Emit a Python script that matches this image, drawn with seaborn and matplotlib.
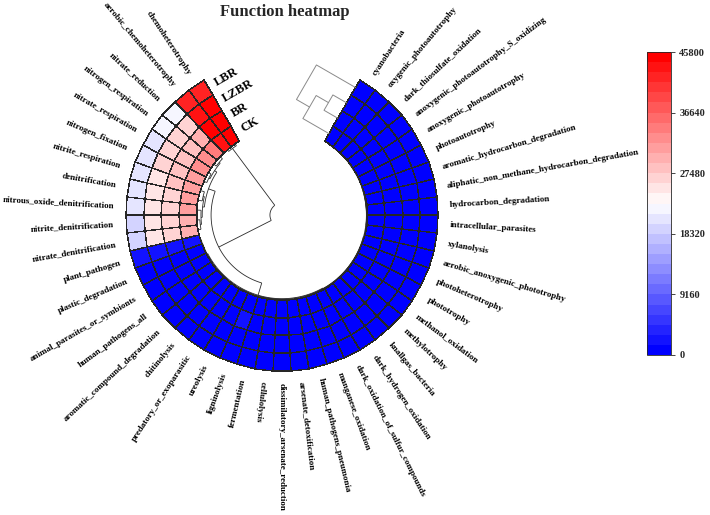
import numpy as np
import matplotlib
matplotlib.use("Agg")
import matplotlib.pyplot as plt
import seaborn as sns
import pandas as pd

# ---------------- data ----------------
functions = [
    "cyanobacteria", "oxygenic_photoautotrophy", "dark_thiosulfate_oxidation",
    "anoxygenic_photoautotrophy_S_oxidizing", "anoxygenic_photoautotrophy",
    "photoautotrophy", "aromatic_hydrocarbon_degradation",
    "aliphatic_non_methane_hydrocarbon_degradation", "hydrocarbon_degradation",
    "intracellular_parasites", "xylanolysis", "aerobic_anoxygenic_phototrophy",
    "photoheterotrophy", "phototrophy", "methanol_oxidation", "methylotrophy",
    "knallgas_bacteria", "dark_hydrogen_oxidation",
    "dark_oxidation_of_sulfur_compounds", "manganese_oxidation",
    "human_pathogens_pneumonia", "arsenate_detoxification",
    "dissimilatory_arsenate_reduction", "cellulolysis", "fermentation",
    "ligninolysis", "ureolysis", "predatory_or_exoparasitic", "chitinolysis",
    "aromatic_compound_degradation", "human_pathogens_all",
    "animal_parasites_or_symbionts", "plastic_degradation", "plant_pathogen",
    "nitrate_denitrification", "nitrite_denitrification",
    "nitrous_oxide_denitrification", "denitrification", "nitrite_respiration",
    "nitrogen_fixation", "nitrate_respiration", "nitrogen_respiration",
    "nitrate_reduction", "aerobic_chemoheterotrophy", "chemoheterotrophy",
]
samples = ["CK", "BR", "LZBR", "LBR"]   # inner ring -> outer ring

ck = [40, 60, 20, 30, 80, 120, 90, 110, 250, 150, 180, 200, 300, 320, 260, 280,
      220, 240, 260, 300, 380, 420, 400, 650, 900, 800, 700, 750, 850, 950,
      1100, 1200, 1400, 2000,
      30500, 30500, 30800, 31000, 31500, 32000, 32500, 33000, 34000, 44000, 45800]
br = [30, 50, 20, 30, 70, 100, 80, 100, 230, 140, 170, 190, 280, 300, 240, 260,
      210, 230, 250, 280, 360, 400, 380, 620, 880, 1600, 680, 720, 820, 920,
      1050, 1150, 1450, 2600,
      27000, 27000, 27200, 27300, 28000, 28200, 28500, 28800, 30000, 44500, 45500]
lzbr = [25, 40, 15, 25, 60, 90, 70, 90, 210, 130, 160, 180, 260, 280, 220, 240,
        200, 220, 240, 260, 340, 380, 360, 600, 860, 780, 660, 700, 800, 900,
        1000, 1100, 1350, 2100,
        25500, 25500, 25600, 25700, 25800, 26000, 26200, 26400, 26800, 44000, 45000]
lbr = [20, 30, 10, 20, 50, 80, 60, 80, 190, 120, 150, 170, 240, 260, 200, 220,
       190, 210, 230, 250, 320, 360, 340, 580, 840, 760, 640, 680, 780, 880,
       950, 1050, 1300, 1800,
       19800, 19800, 20000, 20100, 20300, 20800, 21300, 21800, 22300, 41500, 42500]
cbar_ticks = [0, 9160, 18320, 27480, 36640, 45800]

# ---------------- style ----------------
sns.set_theme(style="white")
plt.rcParams["font.family"] = ["Liberation Serif", "DejaVu Serif"]
plt.rcParams["font.weight"] = "bold"

FW, FH = 710, 515
fig = plt.figure(figsize=(FW / 100, FH / 100), dpi=100)

cx, cy = 282, 215          # circle centre in px
scale = 17.73              # px per radial unit
RMAX = 12.0
half = RMAX * scale
rect = [(cx - half) / FW, (FH - cy - half) / FH, 2 * half / FW, 2 * half / FH]

ax = fig.add_axes(rect, projection="polar")
ax.set_theta_zero_location("E")
ax.set_theta_direction(1)

df = pd.DataFrame({"CK": ck, "BR": br, "LZBR": lzbr, "LBR": lbr}, index=functions)
n = len(functions)
start, span = 60.0, 300.0
step = span / n
theta_edges = np.deg2rad(start - step * np.arange(n + 1))
centers = start - step * (np.arange(n) + 0.5)
r_in = 4.8
r_edges = r_in + np.arange(len(samples) + 1)

cmap = sns.color_palette("bwr", as_cmap=True).resampled(30)
C = df[samples].T.values
mesh = ax.pcolormesh(theta_edges, r_edges, C, cmap=cmap, vmin=0, vmax=45800,
                     edgecolors="#262626", linewidth=0.3, shading="flat")

# function labels
r_lab = 9.48
for name, a in zip(functions, centers):
    an = ((a + 180) % 360) - 180
    flip = an > 90 or an < -100
    rot = an + 180 if flip else an
    ax.text(np.deg2rad(a), r_lab, name, rotation=rot, rotation_mode="anchor",
            ha="right" if flip else "left", va="center", fontsize=6.5,
            fontweight="bold", color="#000000")

# ---------------- row dendrogram (polar) ----------------
def build(lo, hi, r_top, dr):
    if lo == hi:
        return lo
    mid = (lo + hi) // 2
    rc = min(r_top + dr, r_in - 0.02)
    return (build(lo, mid, rc, dr), build(mid + 1, hi, rc, dr), r_top)

blue = ((build(0, 20, 4.76, 0.006), build(21, 28, 4.76, 0.01), 4.75),
        build(29, 33, 4.76, 0.01), 4.72)
pink = (build(34, 38, 4.5, 0.07), build(39, 42, 4.55, 0.07), 4.4)
chemo = (43, 44, 4.68)
row_tree = ((pink, blue, 4.0), chemo, 0.68)

dkw = dict(color="#2a2a2a", lw=0.6, solid_capstyle="butt")

def draw(node):
    if isinstance(node, (int, np.integer)):
        return centers[node], r_in
    a, b, rm = node
    ta, ra = draw(a)
    tb, rb = draw(b)
    ax.plot(np.deg2rad([ta, ta]), [ra, rm], **dkw)
    ax.plot(np.deg2rad([tb, tb]), [rb, rm], **dkw)
    th = np.linspace(ta, tb, 80)
    ax.plot(np.deg2rad(th), np.full_like(th, rm), **dkw)
    return (ta + tb) / 2, rm

draw(row_tree)
ax.set_ylim(0, RMAX)
ax.axis("off")

# ---------------- sample dendrogram + labels (cartesian overlay) ----------------
ax2 = fig.add_axes(rect)
ax2.set_xlim(-RMAX, RMAX)
ax2.set_ylim(-RMAX, RMAX)
ax2.set_aspect("equal")
ax2.axis("off")

s_pos = {s: r_in + 0.5 + k for k, s in enumerate(samples)}
col_tree = (("CK", ("BR", "LZBR", 0.9), 1.7), "LBR", 2.55)
e1 = np.array([np.cos(np.deg2rad(start)), np.sin(np.deg2rad(start))])
e2 = np.array([-np.sin(np.deg2rad(start)), np.cos(np.deg2rad(start))])

def xy(s, h):
    return s * e1 + h * e2

ckw = dict(color="#8a8a8a", lw=0.7)

def draw_col(node):
    if isinstance(node, str):
        return s_pos[node], 0.0
    a, b, h = node
    sa, ha = draw_col(a)
    sb, hb = draw_col(b)
    pts = np.array([xy(sa, ha), xy(sa, h), xy(sb, h), xy(sb, hb)])
    ax2.plot(pts[:, 0], pts[:, 1], **ckw)
    return (sa + sb) / 2, h

draw_col(col_tree)

end = start - span
u = np.array([np.cos(np.deg2rad(end)), np.sin(np.deg2rad(end))])
t = np.array([np.sin(np.deg2rad(end)), -np.cos(np.deg2rad(end))])
for s in samples:
    p = s_pos[s] * u + 0.42 * t
    ax2.text(p[0], p[1], s, rotation=end - 90, rotation_mode="anchor",
             ha="left", va="center", fontsize=9, fontweight="bold", color="#000000")

# ---------------- colorbar ----------------
cax = fig.add_axes([647 / FW, (FH - 355) / FH, 24 / FW, 303 / FH])
cb = fig.colorbar(mesh, cax=cax, ticks=cbar_ticks)
cb.set_ticklabels([str(v) for v in cbar_ticks])
cax.tick_params(right=True, left=False, length=3, width=0.6, labelsize=7.5,
                direction="out", pad=3)
for tl in cax.get_yticklabels():
    tl.set_fontweight("bold")
cb.outline.set_linewidth(0.6)

fig.text(285 / FW, 1 - 12 / FH, "Function heatmap", ha="center", va="center",
         fontsize=12, fontweight="bold")

fig.savefig("out.png", dpi=100)
